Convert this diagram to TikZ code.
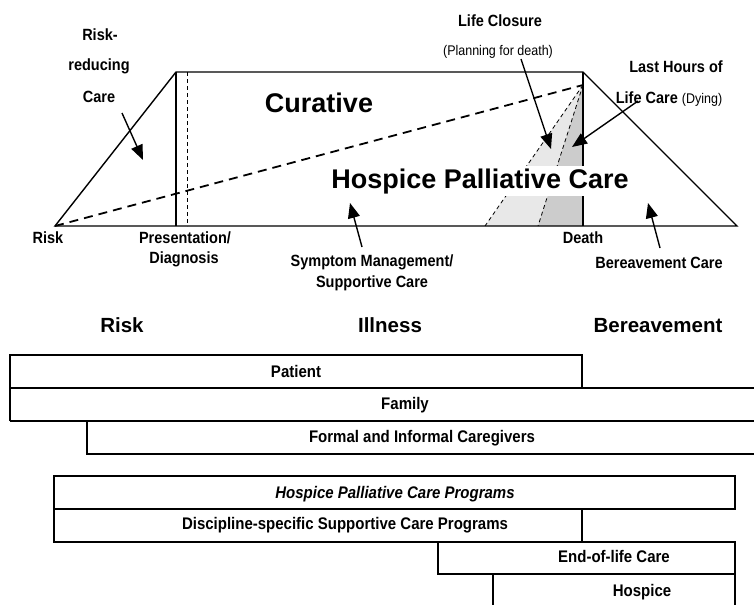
\documentclass[tikz,border=0pt]{standalone}
\usepackage{fontspec}
\setmainfont{Liberation Sans}
\usetikzlibrary{arrows.meta}
\newcommand\tallx[1]{\scalebox{1}[1.12]{#1}}
\begin{document}
\begin{tikzpicture}[x=1pt,y=-1pt,
  lbl/.style={font=\fontsize{14.5}{16}\selectfont\bfseries, anchor=base, inner sep=0pt},
  boxtxt/.style={font=\fontsize{15}{17}\selectfont\bfseries, anchor=base, inner sep=0pt},
  head/.style={font=\fontsize{20.5}{23}\selectfont\bfseries, anchor=base, inner sep=0pt},
  big/.style={font=\fontsize{27}{30}\selectfont\bfseries, anchor=base, inner sep=0pt},
  small/.style={font=\fontsize{12.5}{14}\selectfont, anchor=base, inner sep=0pt},
  outline/.style={line width=1.4pt},
  bar/.style={line width=1.1pt},
  ptr/.style={line width=1.4pt, -{Triangle[length=15pt,width=12pt]}},
  thindash/.style={line width=0.8pt, dash pattern=on 4pt off 3pt},
  bigdash/.style={line width=1.8pt, dash pattern=on 9pt off 6pt},
]
\useasboundingbox (0,0) rectangle (754,605);
\fill[white] (0,0) rectangle (754,605);

% ---------- key points of the upper diagram ----------
\coordinate (risk) at (55,226);
\coordinate (tl) at (176,72);
\coordinate (tlb) at (176,226);
\coordinate (dgt) at (187,72);
\coordinate (dgb) at (187,226);
\coordinate (tr) at (583,72);
\coordinate (death) at (583,226);
\coordinate (apex) at (583,85);
\coordinate (rb) at (737,226);
\coordinate (lcb) at (485,226);
\coordinate (lhb) at (538,226);

% shaded wedges
\fill[gray!18] (apex) -- (lcb) -- (lhb) -- cycle;
\fill[gray!40] (apex) -- (lhb) -- (death) -- cycle;
\draw[thindash] (apex) -- (lcb);
\draw[thindash] (apex) -- (lhb);

% outline
\draw[outline] (risk) -- (tl) -- (tr) -- (rb) -- cycle;
\draw[outline] (tl) -- (tlb);
\draw[outline] (tr) -- (death);
\draw[thindash] (dgt) -- (dgb);
\draw[bigdash] (risk) -- (apex);

% big texts
\node[big] (cur) at (319,112) {Curative};
\node[big, fill=white, inner ysep=2pt] (hpc) at (480,188) {Hospice Palliative Care};

% labels
\node[lbl] (rr1) at (100,40) {\tallx{Risk-}};
\node[lbl] (rr2) at (99,70) {\tallx{reducing}};
\node[lbl] (rr3) at (99,102) {\tallx{Care}};
\node[lbl] (lriskl) at (48,243) {\tallx{Risk}};
\node[lbl] (pres) at (185,243) {\tallx{Presentation/}};
\node[lbl] (diag) at (184,263) {\tallx{Diagnosis}};
\node[lbl] (sym1) at (372,266) {\tallx{Symptom Management/}};
\node[lbl] (sym2) at (372,287) {\tallx{Supportive Care}};
\node[lbl] (dth) at (583,243) {\tallx{Death}};
\node[lbl] (ber) at (659,268) {\tallx{Bereavement Care}};
\node[lbl] (lc) at (500,26) {\tallx{Life Closure}};
\node[small] (plan) at (498,55) {\tallx{(Planning for death)}};
\node[lbl] (lh1) at (676,72) {\tallx{Last Hours of}};
\node[lbl] (lh2) at (669,103) {\tallx{Life Care {\mdseries\fontsize{12.5}{14}\selectfont(Dying)}}};

% pointer arrows
\coordinate (rrtip) at (143,160);
\coordinate (symtip) at (350,203);
\coordinate (bertip) at (648,203);
\coordinate (lctip) at (551,149);
\coordinate (lhtip) at (572,147);
\draw[ptr] (122,113) -- (rrtip);
\draw[ptr] (362,247) -- (symtip);
\draw[ptr] (660,248) -- (bertip);
\draw[ptr] (521,59) -- (lctip);
\draw[ptr] (638,101) -- (lhtip);

% ---------- lower section ----------
\node[head] (hrisk) at (122,332) {Risk};
\node[head] (hill) at (390,332) {Illness};
\node[head] (hber) at (658,332) {Bereavement};

% Patient / Family / Caregivers
\draw[bar] (10,421) -- (10,355) -- (582,355) -- (582,388);
\draw[bar] (10,388) -- (754,388);
\draw[bar] (10,421) -- (754,421);
\draw[bar] (87,421) -- (87,454) -- (754,454);
\node[boxtxt] (pat) at (296,377) {\tallx{Patient}};
\node[boxtxt] (fam) at (405,409) {\tallx{Family}};
\node[boxtxt] (care) at (422,442) {\tallx{Formal and Informal Caregivers}};

% programmes
\draw[bar] (54,476) rectangle (735,509);
\draw[bar] (54,509) -- (54,542) -- (582,542) -- (582,509);
\draw[bar] (438,542) rectangle (735,574);
\draw[bar] (493,574) -- (493,605);
\draw[bar] (735,574) -- (735,605);
\node[boxtxt, font=\fontsize{15}{17}\selectfont\bfseries\itshape] (hpcp) at (395,498) {\tallx{Hospice Palliative Care Programs}};
\node[boxtxt] (disc) at (345,529) {\tallx{Discipline-specific Supportive Care Programs}};
\node[boxtxt] (eol) at (614,562) {\tallx{End-of-life Care}};
\node[boxtxt] (hosp) at (642,596) {\tallx{Hospice}};
\end{tikzpicture}
\end{document}
